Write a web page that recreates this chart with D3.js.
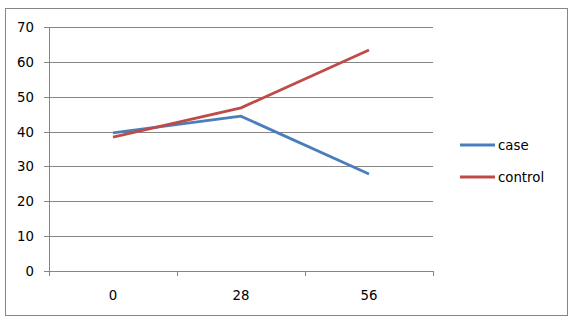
<!DOCTYPE html>
<html>
<head>
<meta charset="utf-8">
<script src="https://cdn.jsdelivr.net/npm/d3@7"></script>
<style>
  body { margin: 0; background: #fff; }
  text { font-family: "DejaVu Sans", sans-serif; font-size: 13.3px; fill: #000; }
</style>
</head>
<body>
<svg id="mainsvg" width="574" height="326"></svg>
<script>
const categories = ["0", "28", "56"];
const caseValues = [39.6, 44.4, 27.8];
const controlValues = [38.4, 46.8, 63.4];
const yTicks = [0, 10, 20, 30, 40, 50, 60, 70];
const seriesNames = ["case", "control"];
const seriesColors = ["#4A7EBB", "#BE4B48"];

const svg = d3.select("#mainsvg");
const plot = { left: 49, right: 433, top: 27, bottom: 271 };

// outer frame
svg.append("rect")
  .attr("x", 5.5).attr("y", 8.5)
  .attr("width", 562).attr("height", 307)
  .attr("fill", "none")
  .attr("stroke", "#868686")
  .attr("stroke-width", 1);

const x = d3.scaleBand()
  .domain(categories)
  .range([plot.left, plot.right]);

const y = d3.scaleLinear()
  .domain([0, 70])
  .range([plot.bottom, plot.top]);

const g = svg.append("g");

// gridlines
g.selectAll(".grid")
  .data(yTicks)
  .enter().append("line")
  .attr("x1", plot.left - 5)
  .attr("x2", plot.right)
  .attr("y1", d => Math.round(y(d)) + 0.5)
  .attr("y2", d => Math.round(y(d)) + 0.5)
  .style("stroke", "#868686")
  .style("stroke-width", 1);

// y axis line
g.append("line")
  .attr("x1", plot.left + 0.5).attr("x2", plot.left + 0.5)
  .attr("y1", plot.top).attr("y2", plot.bottom + 5)
  .style("stroke", "#868686");

// x axis ticks
const tickPos = categories.map(c => x(c) + x.bandwidth());
g.selectAll(".xtick")
  .data(tickPos)
  .enter().append("line")
  .attr("x1", d => Math.round(d) + 0.5)
  .attr("x2", d => Math.round(d) + 0.5)
  .attr("y1", plot.bottom)
  .attr("y2", plot.bottom + 5)
  .style("stroke", "#868686");

// y labels
g.selectAll(".ylabel")
  .data(yTicks)
  .enter().append("text")
  .attr("x", 34)
  .attr("y", d => y(d) + 5)
  .attr("text-anchor", "end")
  .text(d => d);

// x labels
g.selectAll(".xlabel")
  .data(categories)
  .enter().append("text")
  .attr("x", d => x(d) + x.bandwidth() / 2)
  .attr("y", 300)
  .attr("text-anchor", "middle")
  .text(d => d);

const line = d3.line()
  .x((d, i) => x(categories[i]) + x.bandwidth() / 2)
  .y(d => y(d));

[caseValues, controlValues].forEach((vals, i) => {
  g.append("path")
    .datum(vals)
    .attr("d", line)
    .attr("fill", "none")
    .style("stroke", seriesColors[i])
    .style("stroke-width", 2.8)
    .style("stroke-linejoin", "round");
});

// legend
const legend = g.selectAll(".legend")
  .data(seriesNames)
  .enter().append("g")
  .attr("transform", (d, i) => `translate(0, ${145 + i * 32})`);

legend.append("line")
  .attr("x1", 460).attr("x2", 495)
  .attr("y1", 0).attr("y2", 0)
  .style("stroke", (d, i) => seriesColors[i])
  .style("stroke-width", 2.8);

legend.append("text")
  .attr("x", 498)
  .attr("y", 5)
  .text(d => d);
</script>
</body>
</html>
